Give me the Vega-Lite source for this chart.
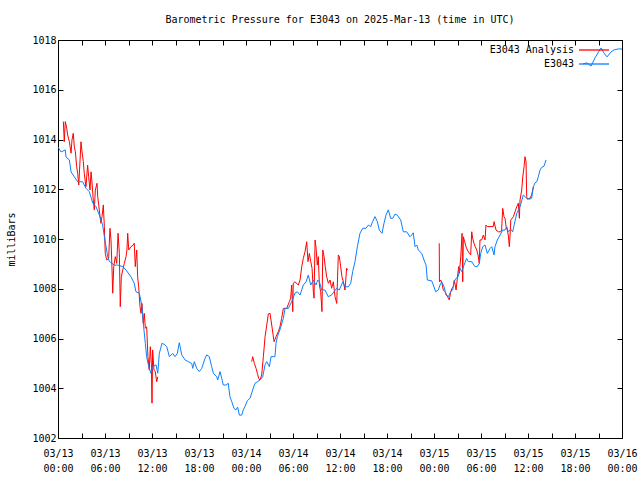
{
"$schema":"https://vega.github.io/schema/vega-lite/v6.json",
"width":564,"height":398,
"autosize":{"type":"none"},
"padding":{"left":58,"top":40,"right":18,"bottom":42},
"background":"white",
"title":{"text":"Barometric Pressure for E3043 on 2025-Mar-13 (time in UTC)","font":"DejaVu Sans Mono","fontSize":10,"fontWeight":"normal","color":"black","anchor":"middle","offset":10},
"config":{"view":{"stroke":"black","strokeWidth":1},"font":"DejaVu Sans Mono",
 "axis":{"labelFont":"DejaVu Sans Mono","labelFontSize":10,"labelColor":"black","titleFont":"DejaVu Sans Mono","titleFontSize":10,"titleFontWeight":"normal","titleColor":"black","tickColor":"black","grid":false,"domain":false,"labelFlush":false,"labelOverlap":false}},
"data":{"values":[
{"t":"2025-03-13T00:00Z","p":1013.70,"s":"E3043","g":"b1"},
{"t":"2025-03-13T00:23Z","p":1013.5,"s":"E3043","g":"b1"},
{"t":"2025-03-13T00:56Z","p":1013.58,"s":"E3043","g":"b1"},
{"t":"2025-03-13T01:01Z","p":1013.3,"s":"E3043","g":"b1"},
{"t":"2025-03-13T01:27Z","p":1013.18,"s":"E3043","g":"b1"},
{"t":"2025-03-13T01:40Z","p":1012.7,"s":"E3043","g":"b1"},
{"t":"2025-03-13T02:05Z","p":1012.5,"s":"E3043","g":"b1"},
{"t":"2025-03-13T02:31Z","p":1012.3,"s":"E3043","g":"b1"},
{"t":"2025-03-13T03:09Z","p":1012.3,"s":"E3043","g":"b1"},
{"t":"2025-03-13T03:34Z","p":1012.04,"s":"E3043","g":"b1"},
{"t":"2025-03-13T04:00Z","p":1011.9,"s":"E3043","g":"b1"},
{"t":"2025-03-13T04:26Z","p":1011.45,"s":"E3043","g":"b1"},
{"t":"2025-03-13T04:51Z","p":1011.3,"s":"E3043","g":"b1"},
{"t":"2025-03-13T05:16Z","p":1010.97,"s":"E3043","g":"b1"},
{"t":"2025-03-13T05:42Z","p":1010.56,"s":"E3043","g":"b1"},
{"t":"2025-03-13T05:55Z","p":1010.1,"s":"E3043","g":"b1"},
{"t":"2025-03-13T06:21Z","p":1009.29,"s":"E3043","g":"b1"},
{"t":"2025-03-13T06:33Z","p":1009.1,"s":"E3043","g":"b1"},
{"t":"2025-03-13T07:11Z","p":1008.95,"s":"E3043","g":"b1"},
{"t":"2025-03-13T07:37Z","p":1008.95,"s":"E3043","g":"b1"},
{"t":"2025-03-13T08:16Z","p":1008.89,"s":"E3043","g":"b1"},
{"t":"2025-03-13T08:41Z","p":1008.75,"s":"E3043","g":"b1"},
{"t":"2025-03-13T09:19Z","p":1008.48,"s":"E3043","g":"b1"},
{"t":"2025-03-13T09:44Z","p":1008.22,"s":"E3043","g":"b1"},
{"t":"2025-03-13T09:57Z","p":1007.88,"s":"E3043","g":"b1"},
{"t":"2025-03-13T10:23Z","p":1007.82,"s":"E3043","g":"b1"},
{"t":"2025-03-13T10:43Z","p":1007.3,"s":"E3043","g":"b1"},
{"t":"2025-03-13T10:56Z","p":1006.47,"s":"E3043","g":"b1"},
{"t":"2025-03-13T11:09Z","p":1005.8,"s":"E3043","g":"b1"},
{"t":"2025-03-13T11:19Z","p":1005.27,"s":"E3043","g":"b1"},
{"t":"2025-03-13T11:35Z","p":1004.87,"s":"E3043","g":"b1"},
{"t":"2025-03-13T11:52Z","p":1004.6,"s":"E3043","g":"b1"},
{"t":"2025-03-13T12:05Z","p":1004.87,"s":"E3043","g":"b1"},
{"t":"2025-03-13T12:31Z","p":1004.94,"s":"E3043","g":"b1"},
{"t":"2025-03-13T12:44Z","p":1004.6,"s":"E3043","g":"b1"},
{"t":"2025-03-13T12:56Z","p":1005.4,"s":"E3043","g":"b1"},
{"t":"2025-03-13T13:17Z","p":1005.81,"s":"E3043","g":"b1"},
{"t":"2025-03-13T13:40Z","p":1005.74,"s":"E3043","g":"b1"},
{"t":"2025-03-13T13:53Z","p":1005.67,"s":"E3043","g":"b1"},
{"t":"2025-03-13T14:13Z","p":1005.27,"s":"E3043","g":"b1"},
{"t":"2025-03-13T14:39Z","p":1005.4,"s":"E3043","g":"b1"},
{"t":"2025-03-13T14:56Z","p":1005.27,"s":"E3043","g":"b1"},
{"t":"2025-03-13T15:14Z","p":1005.4,"s":"E3043","g":"b1"},
{"t":"2025-03-13T15:29Z","p":1005.83,"s":"E3043","g":"b1"},
{"t":"2025-03-13T15:48Z","p":1005.34,"s":"E3043","g":"b1"},
{"t":"2025-03-13T16:13Z","p":1005.14,"s":"E3043","g":"b1"},
{"t":"2025-03-13T16:38Z","p":1005.07,"s":"E3043","g":"b1"},
{"t":"2025-03-13T17:04Z","p":1005.0,"s":"E3043","g":"b1"},
{"t":"2025-03-13T17:12Z","p":1004.8,"s":"E3043","g":"b1"},
{"t":"2025-03-13T17:24Z","p":1005.07,"s":"E3043","g":"b1"},
{"t":"2025-03-13T17:42Z","p":1004.8,"s":"E3043","g":"b1"},
{"t":"2025-03-13T18:02Z","p":1004.67,"s":"E3043","g":"b1"},
{"t":"2025-03-13T18:21Z","p":1004.8,"s":"E3043","g":"b1"},
{"t":"2025-03-13T18:46Z","p":1005.2,"s":"E3043","g":"b1"},
{"t":"2025-03-13T18:59Z","p":1005.34,"s":"E3043","g":"b1"},
{"t":"2025-03-13T19:19Z","p":1005.27,"s":"E3043","g":"b1"},
{"t":"2025-03-13T19:37Z","p":1004.87,"s":"E3043","g":"b1"},
{"t":"2025-03-13T19:50Z","p":1004.6,"s":"E3043","g":"b1"},
{"t":"2025-03-13T20:16Z","p":1004.46,"s":"E3043","g":"b1"},
{"t":"2025-03-13T20:23Z","p":1004.33,"s":"E3043","g":"b1"},
{"t":"2025-03-13T20:41Z","p":1004.67,"s":"E3043","g":"b1"},
{"t":"2025-03-13T20:54Z","p":1004.4,"s":"E3043","g":"b1"},
{"t":"2025-03-13T21:06Z","p":1004.13,"s":"E3043","g":"b1"},
{"t":"2025-03-13T21:27Z","p":1004.13,"s":"E3043","g":"b1"},
{"t":"2025-03-13T21:44Z","p":1004.2,"s":"E3043","g":"b1"},
{"t":"2025-03-13T21:57Z","p":1003.66,"s":"E3043","g":"b1"},
{"t":"2025-03-13T22:11Z","p":1003.46,"s":"E3043","g":"b1"},
{"t":"2025-03-13T22:28Z","p":1003.19,"s":"E3043","g":"b1"},
{"t":"2025-03-13T22:43Z","p":1003.13,"s":"E3043","g":"b1"},
{"t":"2025-03-13T22:56Z","p":1003.24,"s":"E3043","g":"b1"},
{"t":"2025-03-13T23:09Z","p":1002.92,"s":"E3043","g":"b1"},
{"t":"2025-03-13T23:27Z","p":1002.92,"s":"E3043","g":"b1"},
{"t":"2025-03-13T23:39Z","p":1003.13,"s":"E3043","g":"b1"},
{"t":"2025-03-13T23:52Z","p":1003.26,"s":"E3043","g":"b1"},
{"t":"2025-03-14T00:10Z","p":1003.5,"s":"E3043","g":"b1"},
{"t":"2025-03-14T00:31Z","p":1003.6,"s":"E3043","g":"b1"},
{"t":"2025-03-14T00:51Z","p":1003.93,"s":"E3043","g":"b1"},
{"t":"2025-03-14T01:09Z","p":1004.2,"s":"E3043","g":"b1"},
{"t":"2025-03-14T01:27Z","p":1004.26,"s":"E3043","g":"b1"},
{"t":"2025-03-14T01:47Z","p":1004.33,"s":"E3043","g":"b1"},
{"t":"2025-03-14T02:08Z","p":1004.46,"s":"E3043","g":"b1"},
{"t":"2025-03-14T02:26Z","p":1004.94,"s":"E3043","g":"b1"},
{"t":"2025-03-14T02:39Z","p":1005.07,"s":"E3043","g":"b1"},
{"t":"2025-03-14T02:59Z","p":1004.87,"s":"E3043","g":"b1"},
{"t":"2025-03-14T03:12Z","p":1005.27,"s":"E3043","g":"b1"},
{"t":"2025-03-14T03:42Z","p":1005.27,"s":"E3043","g":"b1"},
{"t":"2025-03-14T03:50Z","p":1005.81,"s":"E3043","g":"b1"},
{"t":"2025-03-14T04:00Z","p":1006.07,"s":"E3043","g":"b1"},
{"t":"2025-03-14T04:20Z","p":1006.35,"s":"E3043","g":"b1"},
{"t":"2025-03-14T04:46Z","p":1006.81,"s":"E3043","g":"b1"},
{"t":"2025-03-14T04:59Z","p":1007.21,"s":"E3043","g":"b1"},
{"t":"2025-03-14T05:24Z","p":1007.21,"s":"E3043","g":"b1"},
{"t":"2025-03-14T05:50Z","p":1007.48,"s":"E3043","g":"b1"},
{"t":"2025-03-14T06:15Z","p":1007.82,"s":"E3043","g":"b1"},
{"t":"2025-03-14T06:33Z","p":1007.88,"s":"E3043","g":"b1"},
{"t":"2025-03-14T06:54Z","p":1007.75,"s":"E3043","g":"b1"},
{"t":"2025-03-14T07:19Z","p":1008.15,"s":"E3043","g":"b1"},
{"t":"2025-03-14T07:40Z","p":1008.28,"s":"E3043","g":"b1"},
{"t":"2025-03-14T07:57Z","p":1008.55,"s":"E3043","g":"b1"},
{"t":"2025-03-14T08:16Z","p":1008.15,"s":"E3043","g":"b1"},
{"t":"2025-03-14T08:36Z","p":1008.35,"s":"E3043","g":"b1"},
{"t":"2025-03-14T08:56Z","p":1008.15,"s":"E3043","g":"b1"},
{"t":"2025-03-14T09:09Z","p":1008.35,"s":"E3043","g":"b1"},
{"t":"2025-03-14T09:22Z","p":1008.28,"s":"E3043","g":"b1"},
{"t":"2025-03-14T09:40Z","p":1007.95,"s":"E3043","g":"b1"},
{"t":"2025-03-14T10:05Z","p":1007.95,"s":"E3043","g":"b1"},
{"t":"2025-03-14T10:30Z","p":1007.68,"s":"E3043","g":"b1"},
{"t":"2025-03-14T10:56Z","p":1007.75,"s":"E3043","g":"b1"},
{"t":"2025-03-14T11:14Z","p":1007.88,"s":"E3043","g":"b1"},
{"t":"2025-03-14T11:35Z","p":1008.02,"s":"E3043","g":"b1"},
{"t":"2025-03-14T11:55Z","p":1007.95,"s":"E3043","g":"b1"},
{"t":"2025-03-14T12:21Z","p":1008.28,"s":"E3043","g":"b1"},
{"t":"2025-03-14T12:38Z","p":1008.08,"s":"E3043","g":"b1"},
{"t":"2025-03-14T13:04Z","p":1008.08,"s":"E3043","g":"b1"},
{"t":"2025-03-14T13:22Z","p":1008.22,"s":"E3043","g":"b1"},
{"t":"2025-03-14T13:37Z","p":1008.69,"s":"E3043","g":"b1"},
{"t":"2025-03-14T13:55Z","p":1009.09,"s":"E3043","g":"b1"},
{"t":"2025-03-14T14:13Z","p":1009.69,"s":"E3043","g":"b1"},
{"t":"2025-03-14T14:33Z","p":1010.23,"s":"E3043","g":"b1"},
{"t":"2025-03-14T14:54Z","p":1010.43,"s":"E3043","g":"b1"},
{"t":"2025-03-14T15:19Z","p":1010.43,"s":"E3043","g":"b1"},
{"t":"2025-03-14T15:37Z","p":1010.56,"s":"E3043","g":"b1"},
{"t":"2025-03-14T15:55Z","p":1010.5,"s":"E3043","g":"b1"},
{"t":"2025-03-14T16:10Z","p":1010.7,"s":"E3043","g":"b1"},
{"t":"2025-03-14T16:28Z","p":1010.9,"s":"E3043","g":"b1"},
{"t":"2025-03-14T16:46Z","p":1010.7,"s":"E3043","g":"b1"},
{"t":"2025-03-14T17:01Z","p":1010.36,"s":"E3043","g":"b1"},
{"t":"2025-03-14T17:22Z","p":1010.23,"s":"E3043","g":"b1"},
{"t":"2025-03-14T17:37Z","p":1010.63,"s":"E3043","g":"b1"},
{"t":"2025-03-14T17:52Z","p":1010.96,"s":"E3043","g":"b1"},
{"t":"2025-03-14T18:10Z","p":1011.17,"s":"E3043","g":"b1"},
{"t":"2025-03-14T18:28Z","p":1010.83,"s":"E3043","g":"b1"},
{"t":"2025-03-14T18:44Z","p":1010.83,"s":"E3043","g":"b1"},
{"t":"2025-03-14T19:01Z","p":1011.0,"s":"E3043","g":"b1"},
{"t":"2025-03-14T19:19Z","p":1010.96,"s":"E3043","g":"b1"},
{"t":"2025-03-14T19:45Z","p":1010.76,"s":"E3043","g":"b1"},
{"t":"2025-03-14T20:05Z","p":1010.29,"s":"E3043","g":"b1"},
{"t":"2025-03-14T20:31Z","p":1010.29,"s":"E3043","g":"b1"},
{"t":"2025-03-14T20:56Z","p":1010.09,"s":"E3043","g":"b1"},
{"t":"2025-03-14T21:09Z","p":1010.16,"s":"E3043","g":"b1"},
{"t":"2025-03-14T21:21Z","p":1010.25,"s":"E3043","g":"b1"},
{"t":"2025-03-14T21:35Z","p":1009.69,"s":"E3043","g":"b1"},
{"t":"2025-03-14T21:48Z","p":1009.76,"s":"E3043","g":"b1"},
{"t":"2025-03-14T22:00Z","p":1009.56,"s":"E3043","g":"b1"},
{"t":"2025-03-14T22:26Z","p":1009.42,"s":"E3043","g":"b1"},
{"t":"2025-03-14T22:43Z","p":1009.16,"s":"E3043","g":"b1"},
{"t":"2025-03-14T22:59Z","p":1008.95,"s":"E3043","g":"b1"},
{"t":"2025-03-14T23:09Z","p":1008.35,"s":"E3043","g":"b1"},
{"t":"2025-03-14T23:42Z","p":1008.32,"s":"E3043","g":"b1"},
{"t":"2025-03-14T23:55Z","p":1008.15,"s":"E3043","g":"b1"},
{"t":"2025-03-15T00:13Z","p":1007.88,"s":"E3043","g":"b1"},
{"t":"2025-03-15T00:33Z","p":1007.95,"s":"E3043","g":"b1"},
{"t":"2025-03-15T00:46Z","p":1008.15,"s":"E3043","g":"b1"},
{"t":"2025-03-15T00:59Z","p":1008.28,"s":"E3043","g":"b1"},
{"t":"2025-03-15T01:17Z","p":1008.08,"s":"E3043","g":"b1"},
{"t":"2025-03-15T01:32Z","p":1007.75,"s":"E3043","g":"b1"},
{"t":"2025-03-15T01:50Z","p":1007.68,"s":"E3043","g":"b1"},
{"t":"2025-03-15T02:08Z","p":1007.88,"s":"E3043","g":"b1"},
{"t":"2025-03-15T02:23Z","p":1007.95,"s":"E3043","g":"b1"},
{"t":"2025-03-15T02:33Z","p":1008.28,"s":"E3043","g":"b1"},
{"t":"2025-03-15T02:49Z","p":1008.42,"s":"E3043","g":"b1"},
{"t":"2025-03-15T03:06Z","p":1008.49,"s":"E3043","g":"b1"},
{"t":"2025-03-15T03:19Z","p":1008.82,"s":"E3043","g":"b1"},
{"t":"2025-03-15T03:32Z","p":1008.69,"s":"E3043","g":"b1"},
{"t":"2025-03-15T03:50Z","p":1008.95,"s":"E3043","g":"b1"},
{"t":"2025-03-15T04:10Z","p":1009.22,"s":"E3043","g":"b1"},
{"t":"2025-03-15T04:23Z","p":1009.09,"s":"E3043","g":"b1"},
{"t":"2025-03-15T04:49Z","p":1009.09,"s":"E3043","g":"b1"},
{"t":"2025-03-15T05:14Z","p":1008.89,"s":"E3043","g":"b1"},
{"t":"2025-03-15T05:32Z","p":1008.89,"s":"E3043","g":"b1"},
{"t":"2025-03-15T05:47Z","p":1009.02,"s":"E3043","g":"b1"},
{"t":"2025-03-15T05:58Z","p":1009.42,"s":"E3043","g":"b1"},
{"t":"2025-03-15T06:13Z","p":1009.69,"s":"E3043","g":"b1"},
{"t":"2025-03-15T06:31Z","p":1009.76,"s":"E3043","g":"b1"},
{"t":"2025-03-15T06:48Z","p":1009.42,"s":"E3043","g":"b1"},
{"t":"2025-03-15T07:09Z","p":1009.62,"s":"E3043","g":"b1"},
{"t":"2025-03-15T07:22Z","p":1009.69,"s":"E3043","g":"b1"},
{"t":"2025-03-15T07:40Z","p":1009.36,"s":"E3043","g":"b1"},
{"t":"2025-03-15T07:47Z","p":1009.69,"s":"E3043","g":"b1"},
{"t":"2025-03-15T08:05Z","p":1009.96,"s":"E3043","g":"b1"},
{"t":"2025-03-15T08:26Z","p":1010.16,"s":"E3043","g":"b1"},
{"t":"2025-03-15T08:46Z","p":1010.36,"s":"E3043","g":"b1"},
{"t":"2025-03-15T09:04Z","p":1010.36,"s":"E3043","g":"b1"},
{"t":"2025-03-15T09:17Z","p":1010.5,"s":"E3043","g":"b1"},
{"t":"2025-03-15T09:29Z","p":1010.29,"s":"E3043","g":"b1"},
{"t":"2025-03-15T09:48Z","p":1010.39,"s":"E3043","g":"b1"},
{"t":"2025-03-15T10:03Z","p":1010.29,"s":"E3043","g":"b1"},
{"t":"2025-03-15T10:08Z","p":1010.43,"s":"E3043","g":"b1"},
{"t":"2025-03-15T10:34Z","p":1011.03,"s":"E3043","g":"b1"},
{"t":"2025-03-15T10:59Z","p":1011.3,"s":"E3043","g":"b1"},
{"t":"2025-03-15T11:24Z","p":1011.77,"s":"E3043","g":"b1"},
{"t":"2025-03-15T11:50Z","p":1011.64,"s":"E3043","g":"b1"},
{"t":"2025-03-15T12:15Z","p":1011.6,"s":"E3043","g":"b1"},
{"t":"2025-03-15T12:28Z","p":1011.64,"s":"E3043","g":"b1"},
{"t":"2025-03-15T12:41Z","p":1012.1,"s":"E3043","g":"b1"},
{"t":"2025-03-15T12:54Z","p":1012.26,"s":"E3043","g":"b1"},
{"t":"2025-03-15T13:07Z","p":1012.3,"s":"E3043","g":"b1"},
{"t":"2025-03-15T13:19Z","p":1012.5,"s":"E3043","g":"b1"},
{"t":"2025-03-15T13:32Z","p":1012.77,"s":"E3043","g":"b1"},
{"t":"2025-03-15T13:45Z","p":1012.88,"s":"E3043","g":"b1"},
{"t":"2025-03-15T14:03Z","p":1012.93,"s":"E3043","g":"b1"},
{"t":"2025-03-15T14:18Z","p":1013.18,"s":"E3043","g":"b1"},
{"t":"2025-03-15T19:01Z","p":1017.04,"s":"E3043","g":"b2"},
{"t":"2025-03-15T19:32Z","p":1017.08,"s":"E3043","g":"b2"},
{"t":"2025-03-15T20:03Z","p":1016.95,"s":"E3043","g":"b2"},
{"t":"2025-03-15T20:33Z","p":1017.28,"s":"E3043","g":"b2"},
{"t":"2025-03-15T21:19Z","p":1017.68,"s":"E3043","g":"b2"},
{"t":"2025-03-15T21:42Z","p":1017.48,"s":"E3043","g":"b2"},
{"t":"2025-03-15T22:05Z","p":1017.32,"s":"E3043","g":"b2"},
{"t":"2025-03-15T22:36Z","p":1017.52,"s":"E3043","g":"b2"},
{"t":"2025-03-15T22:59Z","p":1017.6,"s":"E3043","g":"b2"},
{"t":"2025-03-15T23:30Z","p":1017.64,"s":"E3043","g":"b2"},
{"t":"2025-03-16T00:00Z","p":1017.64,"s":"E3043","g":"b2"},
{"t":"2025-03-13T00:41Z","p":1014.72,"s":"E3043 Analysis","g":"r1"},
{"t":"2025-03-13T00:48Z","p":1013.91,"s":"E3043 Analysis","g":"r1"},
{"t":"2025-03-13T00:56Z","p":1014.72,"s":"E3043 Analysis","g":"r1"},
{"t":"2025-03-13T01:07Z","p":1014.45,"s":"E3043 Analysis","g":"r1"},
{"t":"2025-03-13T01:14Z","p":1014.18,"s":"E3043 Analysis","g":"r1"},
{"t":"2025-03-13T01:27Z","p":1013.91,"s":"E3043 Analysis","g":"r1"},
{"t":"2025-03-13T01:40Z","p":1013.45,"s":"E3043 Analysis","g":"r1"},
{"t":"2025-03-13T01:47Z","p":1013.98,"s":"E3043 Analysis","g":"r1"},
{"t":"2025-03-13T01:57Z","p":1014.25,"s":"E3043 Analysis","g":"r1"},
{"t":"2025-03-13T02:05Z","p":1013.71,"s":"E3043 Analysis","g":"r1"},
{"t":"2025-03-13T02:13Z","p":1013.51,"s":"E3043 Analysis","g":"r1"},
{"t":"2025-03-13T02:23Z","p":1012.91,"s":"E3043 Analysis","g":"r1"},
{"t":"2025-03-13T02:31Z","p":1012.64,"s":"E3043 Analysis","g":"r1"},
{"t":"2025-03-13T02:39Z","p":1012.17,"s":"E3043 Analysis","g":"r1"},
{"t":"2025-03-13T02:49Z","p":1013.18,"s":"E3043 Analysis","g":"r1"},
{"t":"2025-03-13T02:56Z","p":1013.91,"s":"E3043 Analysis","g":"r1"},
{"t":"2025-03-13T03:04Z","p":1013.51,"s":"E3043 Analysis","g":"r1"},
{"t":"2025-03-13T03:14Z","p":1013.11,"s":"E3043 Analysis","g":"r1"},
{"t":"2025-03-13T03:21Z","p":1012.64,"s":"E3043 Analysis","g":"r1"},
{"t":"2025-03-13T03:34Z","p":1012.1,"s":"E3043 Analysis","g":"r1"},
{"t":"2025-03-13T03:47Z","p":1012.97,"s":"E3043 Analysis","g":"r1"},
{"t":"2025-03-13T03:55Z","p":1012.5,"s":"E3043 Analysis","g":"r1"},
{"t":"2025-03-13T04:05Z","p":1011.97,"s":"E3043 Analysis","g":"r1"},
{"t":"2025-03-13T04:13Z","p":1012.7,"s":"E3043 Analysis","g":"r1"},
{"t":"2025-03-13T04:20Z","p":1012.3,"s":"E3043 Analysis","g":"r1"},
{"t":"2025-03-13T04:30Z","p":1011.57,"s":"E3043 Analysis","g":"r1"},
{"t":"2025-03-13T04:38Z","p":1011.17,"s":"E3043 Analysis","g":"r1"},
{"t":"2025-03-13T04:46Z","p":1011.97,"s":"E3043 Analysis","g":"r1"},
{"t":"2025-03-13T04:59Z","p":1012.24,"s":"E3043 Analysis","g":"r1"},
{"t":"2025-03-13T05:04Z","p":1011.7,"s":"E3043 Analysis","g":"r1"},
{"t":"2025-03-13T05:12Z","p":1011.37,"s":"E3043 Analysis","g":"r1"},
{"t":"2025-03-13T05:22Z","p":1010.9,"s":"E3043 Analysis","g":"r1"},
{"t":"2025-03-13T05:29Z","p":1010.63,"s":"E3043 Analysis","g":"r1"},
{"t":"2025-03-13T05:37Z","p":1010.9,"s":"E3043 Analysis","g":"r1"},
{"t":"2025-03-13T05:47Z","p":1011.37,"s":"E3043 Analysis","g":"r1"},
{"t":"2025-03-13T05:55Z","p":1010.5,"s":"E3043 Analysis","g":"r1"},
{"t":"2025-03-13T06:02Z","p":1009.42,"s":"E3043 Analysis","g":"r1"},
{"t":"2025-03-13T06:13Z","p":1009.16,"s":"E3043 Analysis","g":"r1"},
{"t":"2025-03-13T06:28Z","p":1009.22,"s":"E3043 Analysis","g":"r1"},
{"t":"2025-03-13T06:38Z","p":1010.43,"s":"E3043 Analysis","g":"r1"},
{"t":"2025-03-13T06:46Z","p":1009.96,"s":"E3043 Analysis","g":"r1"},
{"t":"2025-03-13T06:54Z","p":1008.75,"s":"E3043 Analysis","g":"r1"},
{"t":"2025-03-13T06:59Z","p":1007.82,"s":"E3043 Analysis","g":"r1"},
{"t":"2025-03-13T07:07Z","p":1008.89,"s":"E3043 Analysis","g":"r1"},
{"t":"2025-03-13T07:19Z","p":1009.29,"s":"E3043 Analysis","g":"r1"},
{"t":"2025-03-13T07:30Z","p":1009.02,"s":"E3043 Analysis","g":"r1"},
{"t":"2025-03-13T07:40Z","p":1010.23,"s":"E3043 Analysis","g":"r1"},
{"t":"2025-03-13T07:50Z","p":1009.42,"s":"E3043 Analysis","g":"r1"},
{"t":"2025-03-13T07:57Z","p":1007.28,"s":"E3043 Analysis","g":"r1"},
{"t":"2025-03-13T08:05Z","p":1008.48,"s":"E3043 Analysis","g":"r1"},
{"t":"2025-03-13T08:16Z","p":1008.75,"s":"E3043 Analysis","g":"r1"},
{"t":"2025-03-13T08:28Z","p":1009.02,"s":"E3043 Analysis","g":"r1"},
{"t":"2025-03-13T08:41Z","p":1009.29,"s":"E3043 Analysis","g":"r1"},
{"t":"2025-03-13T08:48Z","p":1009.56,"s":"E3043 Analysis","g":"r1"},
{"t":"2025-03-13T08:54Z","p":1010.23,"s":"E3043 Analysis","g":"r1"},
{"t":"2025-03-13T09:02Z","p":1009.56,"s":"E3043 Analysis","g":"r1"},
{"t":"2025-03-13T09:19Z","p":1009.69,"s":"E3043 Analysis","g":"r1"},
{"t":"2025-03-13T09:37Z","p":1009.76,"s":"E3043 Analysis","g":"r1"},
{"t":"2025-03-13T09:44Z","p":1009.83,"s":"E3043 Analysis","g":"r1"},
{"t":"2025-03-13T09:52Z","p":1008.89,"s":"E3043 Analysis","g":"r1"},
{"t":"2025-03-13T10:03Z","p":1009.56,"s":"E3043 Analysis","g":"r1"},
{"t":"2025-03-13T10:10Z","p":1008.48,"s":"E3043 Analysis","g":"r1"},
{"t":"2025-03-13T10:18Z","p":1008.08,"s":"E3043 Analysis","g":"r1"},
{"t":"2025-03-13T10:28Z","p":1007.28,"s":"E3043 Analysis","g":"r1"},
{"t":"2025-03-13T10:36Z","p":1007.01,"s":"E3043 Analysis","g":"r1"},
{"t":"2025-03-13T10:43Z","p":1007.41,"s":"E3043 Analysis","g":"r1"},
{"t":"2025-03-13T10:53Z","p":1006.61,"s":"E3043 Analysis","g":"r1"},
{"t":"2025-03-13T11:01Z","p":1007.01,"s":"E3043 Analysis","g":"r1"},
{"t":"2025-03-13T11:09Z","p":1006.41,"s":"E3043 Analysis","g":"r1"},
{"t":"2025-03-13T11:19Z","p":1006.47,"s":"E3043 Analysis","g":"r1"},
{"t":"2025-03-13T11:29Z","p":1005.27,"s":"E3043 Analysis","g":"r1"},
{"t":"2025-03-13T11:39Z","p":1004.73,"s":"E3043 Analysis","g":"r1"},
{"t":"2025-03-13T11:47Z","p":1005.67,"s":"E3043 Analysis","g":"r1"},
{"t":"2025-03-13T11:55Z","p":1005.0,"s":"E3043 Analysis","g":"r1"},
{"t":"2025-03-13T12:00Z","p":1003.4,"s":"E3043 Analysis","g":"r1"},
{"t":"2025-03-13T12:05Z","p":1005.54,"s":"E3043 Analysis","g":"r1"},
{"t":"2025-03-13T12:15Z","p":1004.73,"s":"E3043 Analysis","g":"r1"},
{"t":"2025-03-13T12:25Z","p":1004.67,"s":"E3043 Analysis","g":"r1"},
{"t":"2025-03-13T12:36Z","p":1004.26,"s":"E3043 Analysis","g":"r1"},
{"t":"2025-03-13T12:44Z","p":1004.46,"s":"E3043 Analysis","g":"r1"},
{"t":"2025-03-14T00:44Z","p":1005.07,"s":"E3043 Analysis","g":"r2"},
{"t":"2025-03-14T00:51Z","p":1005.27,"s":"E3043 Analysis","g":"r2"},
{"t":"2025-03-14T01:04Z","p":1005.0,"s":"E3043 Analysis","g":"r2"},
{"t":"2025-03-14T01:17Z","p":1004.8,"s":"E3043 Analysis","g":"r2"},
{"t":"2025-03-14T01:27Z","p":1004.6,"s":"E3043 Analysis","g":"r2"},
{"t":"2025-03-14T01:37Z","p":1004.4,"s":"E3043 Analysis","g":"r2"},
{"t":"2025-03-14T01:47Z","p":1004.33,"s":"E3043 Analysis","g":"r2"},
{"t":"2025-03-14T02:00Z","p":1004.53,"s":"E3043 Analysis","g":"r2"},
{"t":"2025-03-14T02:13Z","p":1005.27,"s":"E3043 Analysis","g":"r2"},
{"t":"2025-03-14T02:26Z","p":1006.07,"s":"E3043 Analysis","g":"r2"},
{"t":"2025-03-14T02:39Z","p":1006.54,"s":"E3043 Analysis","g":"r2"},
{"t":"2025-03-14T02:51Z","p":1006.99,"s":"E3043 Analysis","g":"r2"},
{"t":"2025-03-14T03:04Z","p":1007.01,"s":"E3043 Analysis","g":"r2"},
{"t":"2025-03-14T03:17Z","p":1006.54,"s":"E3043 Analysis","g":"r2"},
{"t":"2025-03-14T03:35Z","p":1005.87,"s":"E3043 Analysis","g":"r2"},
{"t":"2025-03-14T03:50Z","p":1006.07,"s":"E3043 Analysis","g":"r2"},
{"t":"2025-03-14T04:07Z","p":1006.27,"s":"E3043 Analysis","g":"r2"},
{"t":"2025-03-14T04:20Z","p":1006.47,"s":"E3043 Analysis","g":"r2"},
{"t":"2025-03-14T04:33Z","p":1006.81,"s":"E3043 Analysis","g":"r2"},
{"t":"2025-03-14T04:46Z","p":1007.21,"s":"E3043 Analysis","g":"r2"},
{"t":"2025-03-14T05:12Z","p":1007.21,"s":"E3043 Analysis","g":"r2"},
{"t":"2025-03-14T05:32Z","p":1007.48,"s":"E3043 Analysis","g":"r2"},
{"t":"2025-03-14T05:42Z","p":1007.62,"s":"E3043 Analysis","g":"r2"},
{"t":"2025-03-14T05:50Z","p":1008.15,"s":"E3043 Analysis","g":"r2"},
{"t":"2025-03-14T05:58Z","p":1007.08,"s":"E3043 Analysis","g":"r2"},
{"t":"2025-03-14T06:02Z","p":1008.22,"s":"E3043 Analysis","g":"r2"},
{"t":"2025-03-14T06:15Z","p":1008.28,"s":"E3043 Analysis","g":"r2"},
{"t":"2025-03-14T06:41Z","p":1008.15,"s":"E3043 Analysis","g":"r2"},
{"t":"2025-03-14T06:54Z","p":1008.35,"s":"E3043 Analysis","g":"r2"},
{"t":"2025-03-14T07:07Z","p":1008.89,"s":"E3043 Analysis","g":"r2"},
{"t":"2025-03-14T07:19Z","p":1009.22,"s":"E3043 Analysis","g":"r2"},
{"t":"2025-03-14T07:32Z","p":1009.49,"s":"E3043 Analysis","g":"r2"},
{"t":"2025-03-14T07:45Z","p":1009.89,"s":"E3043 Analysis","g":"r2"},
{"t":"2025-03-14T07:55Z","p":1009.09,"s":"E3043 Analysis","g":"r2"},
{"t":"2025-03-14T08:05Z","p":1009.42,"s":"E3043 Analysis","g":"r2"},
{"t":"2025-03-14T08:16Z","p":1009.09,"s":"E3043 Analysis","g":"r2"},
{"t":"2025-03-14T08:26Z","p":1008.82,"s":"E3043 Analysis","g":"r2"},
{"t":"2025-03-14T08:36Z","p":1007.88,"s":"E3043 Analysis","g":"r2"},
{"t":"2025-03-14T08:41Z","p":1007.62,"s":"E3043 Analysis","g":"r2"},
{"t":"2025-03-14T08:49Z","p":1009.96,"s":"E3043 Analysis","g":"r2"},
{"t":"2025-03-14T08:56Z","p":1009.69,"s":"E3043 Analysis","g":"r2"},
{"t":"2025-03-14T09:06Z","p":1008.95,"s":"E3043 Analysis","g":"r2"},
{"t":"2025-03-14T09:14Z","p":1009.29,"s":"E3043 Analysis","g":"r2"},
{"t":"2025-03-14T09:22Z","p":1008.15,"s":"E3043 Analysis","g":"r2"},
{"t":"2025-03-14T09:32Z","p":1007.88,"s":"E3043 Analysis","g":"r2"},
{"t":"2025-03-14T09:42Z","p":1007.08,"s":"E3043 Analysis","g":"r2"},
{"t":"2025-03-14T09:48Z","p":1009.56,"s":"E3043 Analysis","g":"r2"},
{"t":"2025-03-14T09:58Z","p":1009.29,"s":"E3043 Analysis","g":"r2"},
{"t":"2025-03-14T10:07Z","p":1008.89,"s":"E3043 Analysis","g":"r2"},
{"t":"2025-03-14T10:18Z","p":1008.48,"s":"E3043 Analysis","g":"r2"},
{"t":"2025-03-14T10:31Z","p":1008.22,"s":"E3043 Analysis","g":"r2"},
{"t":"2025-03-14T10:44Z","p":1008.35,"s":"E3043 Analysis","g":"r2"},
{"t":"2025-03-14T10:56Z","p":1008.02,"s":"E3043 Analysis","g":"r2"},
{"t":"2025-03-14T11:09Z","p":1008.28,"s":"E3043 Analysis","g":"r2"},
{"t":"2025-03-14T11:22Z","p":1007.68,"s":"E3043 Analysis","g":"r2"},
{"t":"2025-03-14T11:35Z","p":1007.41,"s":"E3043 Analysis","g":"r2"},
{"t":"2025-03-14T11:47Z","p":1009.36,"s":"E3043 Analysis","g":"r2"},
{"t":"2025-03-14T11:55Z","p":1009.29,"s":"E3043 Analysis","g":"r2"},
{"t":"2025-03-14T12:05Z","p":1008.89,"s":"E3043 Analysis","g":"r2"},
{"t":"2025-03-14T12:15Z","p":1008.48,"s":"E3043 Analysis","g":"r2"},
{"t":"2025-03-14T12:26Z","p":1008.28,"s":"E3043 Analysis","g":"r2"},
{"t":"2025-03-14T12:38Z","p":1007.95,"s":"E3043 Analysis","g":"r2"},
{"t":"2025-03-14T12:51Z","p":1008.82,"s":"E3043 Analysis","g":"r2"},
{"t":"2025-03-14T12:59Z","p":1008.75,"s":"E3043 Analysis","g":"r2"},
{"t":"2025-03-15T00:40Z","p":1009.83,"s":"E3043 Analysis","g":"r3"},
{"t":"2025-03-15T00:42Z","p":1008.28,"s":"E3043 Analysis","g":"r3"},
{"t":"2025-03-15T00:51Z","p":1008.35,"s":"E3043 Analysis","g":"r3"},
{"t":"2025-03-15T01:01Z","p":1008.22,"s":"E3043 Analysis","g":"r3"},
{"t":"2025-03-15T01:11Z","p":1007.95,"s":"E3043 Analysis","g":"r3"},
{"t":"2025-03-15T01:24Z","p":1007.88,"s":"E3043 Analysis","g":"r3"},
{"t":"2025-03-15T01:37Z","p":1007.75,"s":"E3043 Analysis","g":"r3"},
{"t":"2025-03-15T01:50Z","p":1007.62,"s":"E3043 Analysis","g":"r3"},
{"t":"2025-03-15T01:57Z","p":1007.55,"s":"E3043 Analysis","g":"r3"},
{"t":"2025-03-15T02:08Z","p":1007.88,"s":"E3043 Analysis","g":"r3"},
{"t":"2025-03-15T02:18Z","p":1008.02,"s":"E3043 Analysis","g":"r3"},
{"t":"2025-03-15T02:28Z","p":1008.08,"s":"E3043 Analysis","g":"r3"},
{"t":"2025-03-15T02:36Z","p":1008.35,"s":"E3043 Analysis","g":"r3"},
{"t":"2025-03-15T02:49Z","p":1007.95,"s":"E3043 Analysis","g":"r3"},
{"t":"2025-03-15T02:59Z","p":1008.42,"s":"E3043 Analysis","g":"r3"},
{"t":"2025-03-15T03:09Z","p":1008.89,"s":"E3043 Analysis","g":"r3"},
{"t":"2025-03-15T03:14Z","p":1008.62,"s":"E3043 Analysis","g":"r3"},
{"t":"2025-03-15T03:25Z","p":1009.29,"s":"E3043 Analysis","g":"r3"},
{"t":"2025-03-15T03:35Z","p":1010.23,"s":"E3043 Analysis","g":"r3"},
{"t":"2025-03-15T03:40Z","p":1008.28,"s":"E3043 Analysis","g":"r3"},
{"t":"2025-03-15T03:45Z","p":1010.09,"s":"E3043 Analysis","g":"r3"},
{"t":"2025-03-15T03:55Z","p":1009.89,"s":"E3043 Analysis","g":"r3"},
{"t":"2025-03-15T04:05Z","p":1009.69,"s":"E3043 Analysis","g":"r3"},
{"t":"2025-03-15T04:15Z","p":1009.56,"s":"E3043 Analysis","g":"r3"},
{"t":"2025-03-15T04:31Z","p":1009.42,"s":"E3043 Analysis","g":"r3"},
{"t":"2025-03-15T04:41Z","p":1009.36,"s":"E3043 Analysis","g":"r3"},
{"t":"2025-03-15T04:49Z","p":1010.29,"s":"E3043 Analysis","g":"r3"},
{"t":"2025-03-15T04:56Z","p":1010.03,"s":"E3043 Analysis","g":"r3"},
{"t":"2025-03-15T05:06Z","p":1009.83,"s":"E3043 Analysis","g":"r3"},
{"t":"2025-03-15T05:16Z","p":1009.69,"s":"E3043 Analysis","g":"r3"},
{"t":"2025-03-15T05:27Z","p":1009.56,"s":"E3043 Analysis","g":"r3"},
{"t":"2025-03-15T05:37Z","p":1009.36,"s":"E3043 Analysis","g":"r3"},
{"t":"2025-03-15T05:47Z","p":1009.02,"s":"E3043 Analysis","g":"r3"},
{"t":"2025-03-15T05:52Z","p":1009.96,"s":"E3043 Analysis","g":"r3"},
{"t":"2025-03-15T06:05Z","p":1009.96,"s":"E3043 Analysis","g":"r3"},
{"t":"2025-03-15T06:18Z","p":1010.16,"s":"E3043 Analysis","g":"r3"},
{"t":"2025-03-15T06:31Z","p":1009.96,"s":"E3043 Analysis","g":"r3"},
{"t":"2025-03-15T06:38Z","p":1010.56,"s":"E3043 Analysis","g":"r3"},
{"t":"2025-03-15T06:48Z","p":1010.5,"s":"E3043 Analysis","g":"r3"},
{"t":"2025-03-15T07:09Z","p":1010.5,"s":"E3043 Analysis","g":"r3"},
{"t":"2025-03-15T07:34Z","p":1010.5,"s":"E3043 Analysis","g":"r3"},
{"t":"2025-03-15T07:40Z","p":1010.7,"s":"E3043 Analysis","g":"r3"},
{"t":"2025-03-15T07:55Z","p":1010.36,"s":"E3043 Analysis","g":"r3"},
{"t":"2025-03-15T08:13Z","p":1010.29,"s":"E3043 Analysis","g":"r3"},
{"t":"2025-03-15T08:31Z","p":1010.29,"s":"E3043 Analysis","g":"r3"},
{"t":"2025-03-15T08:38Z","p":1010.36,"s":"E3043 Analysis","g":"r3"},
{"t":"2025-03-15T08:46Z","p":1011.23,"s":"E3043 Analysis","g":"r3"},
{"t":"2025-03-15T08:51Z","p":1011.1,"s":"E3043 Analysis","g":"r3"},
{"t":"2025-03-15T08:56Z","p":1010.9,"s":"E3043 Analysis","g":"r3"},
{"t":"2025-03-15T09:04Z","p":1010.83,"s":"E3043 Analysis","g":"r3"},
{"t":"2025-03-15T09:12Z","p":1010.5,"s":"E3043 Analysis","g":"r3"},
{"t":"2025-03-15T09:21Z","p":1010.36,"s":"E3043 Analysis","g":"r3"},
{"t":"2025-03-15T09:29Z","p":1010.16,"s":"E3043 Analysis","g":"r3"},
{"t":"2025-03-15T09:37Z","p":1009.69,"s":"E3043 Analysis","g":"r3"},
{"t":"2025-03-15T09:42Z","p":1010.09,"s":"E3043 Analysis","g":"r3"},
{"t":"2025-03-15T09:48Z","p":1010.76,"s":"E3043 Analysis","g":"r3"},
{"t":"2025-03-15T09:58Z","p":1010.83,"s":"E3043 Analysis","g":"r3"},
{"t":"2025-03-15T10:08Z","p":1010.9,"s":"E3043 Analysis","g":"r3"},
{"t":"2025-03-15T10:21Z","p":1011.1,"s":"E3043 Analysis","g":"r3"},
{"t":"2025-03-15T10:34Z","p":1011.3,"s":"E3043 Analysis","g":"r3"},
{"t":"2025-03-15T10:46Z","p":1011.44,"s":"E3043 Analysis","g":"r3"},
{"t":"2025-03-15T10:54Z","p":1010.83,"s":"E3043 Analysis","g":"r3"},
{"t":"2025-03-15T10:59Z","p":1011.57,"s":"E3043 Analysis","g":"r3"},
{"t":"2025-03-15T11:12Z","p":1011.97,"s":"E3043 Analysis","g":"r3"},
{"t":"2025-03-15T11:20Z","p":1012.5,"s":"E3043 Analysis","g":"r3"},
{"t":"2025-03-15T11:30Z","p":1012.91,"s":"E3043 Analysis","g":"r3"},
{"t":"2025-03-15T11:37Z","p":1013.31,"s":"E3043 Analysis","g":"r3"},
{"t":"2025-03-15T11:45Z","p":1013.11,"s":"E3043 Analysis","g":"r3"},
{"t":"2025-03-15T11:50Z","p":1011.7,"s":"E3043 Analysis","g":"r3"},
{"t":"2025-03-15T11:55Z","p":1011.6,"s":"E3043 Analysis","g":"r3"},
{"t":"2025-03-15T12:15Z","p":1011.64,"s":"E3043 Analysis","g":"r3"},
{"t":"2025-03-15T12:28Z","p":1011.77,"s":"E3043 Analysis","g":"r3"},
{"t":"2025-03-15T12:41Z","p":1012.1,"s":"E3043 Analysis","g":"r3"}
]},
"layer":[
{"transform":[{"filter":"datum.s === 'E3043 Analysis'"}],
 "mark":{"type":"line","strokeWidth":1},
 "encoding":{
  "x":{"field":"t","type":"temporal","scale":{"type":"utc","nice":false,"domain":[1741824000000,1742083200000]},
   "axis":{"orient":"bottom","title":null,"values":[1741824000000,1741834800000,1741845600000,1741856400000,1741867200000,1741878000000,1741888800000,1741899600000,1741910400000,1741921200000,1741932000000,1741942800000,1741953600000,1741964400000,1741975200000,1741986000000,1741996800000,1742007600000,1742018400000,1742029200000,1742040000000,1742050800000,1742061600000,1742072400000,1742083200000],"labelExpr":"utchours(datum.value) % 6 === 0 ? [utcFormat(datum.value,'%m/%d'), utcFormat(datum.value,'%H:%M')] : ''","tickSize":-5,"labelPadding":15,"labelLineHeight":15}},
  "y":{"field":"p","type":"quantitative","scale":{"domain":[1002,1018],"nice":false,"zero":false},
   "axis":{"orient":"left","title":"milliBars","values":[1002,1004,1006,1008,1010,1012,1014,1016,1018],"format":"d","tickSize":-5,"labelPadding":7,"titlePadding":15}},
  "color":{"field":"s","type":"nominal","scale":{"domain":["E3043 Analysis","E3043"],"range":["#ff0000","#0a80ff"]},
   "legend":{"orient":"none","legendX":530,"legendY":4,"title":null,"symbolType":"M-3,0H3","symbolSize":100,"symbolStrokeWidth":1.3,"labelAlign":"right","labelOffset":-26,"labelFont":"DejaVu Sans Mono","labelFontSize":10,"labelColor":"black","rowPadding":3,"padding":0}},
  "detail":{"field":"g"}}},
{"transform":[{"filter":"datum.s === 'E3043'"}],
 "mark":{"type":"line","strokeWidth":1},
 "encoding":{
  "x":{"field":"t","type":"temporal",
   "axis":{"orient":"top","title":null,"labels":false,"values":[1741824000000,1741834800000,1741845600000,1741856400000,1741867200000,1741878000000,1741888800000,1741899600000,1741910400000,1741921200000,1741932000000,1741942800000,1741953600000,1741964400000,1741975200000,1741986000000,1741996800000,1742007600000,1742018400000,1742029200000,1742040000000,1742050800000,1742061600000,1742072400000,1742083200000],"tickSize":-5}},
  "y":{"field":"p","type":"quantitative",
   "axis":{"orient":"right","title":null,"labels":false,"values":[1002,1004,1006,1008,1010,1012,1014,1016,1018],"tickSize":-5}},
  "color":{"field":"s","type":"nominal"},
  "detail":{"field":"g"}}}
],
"resolve":{"axis":{"x":"independent","y":"independent"}}
}
